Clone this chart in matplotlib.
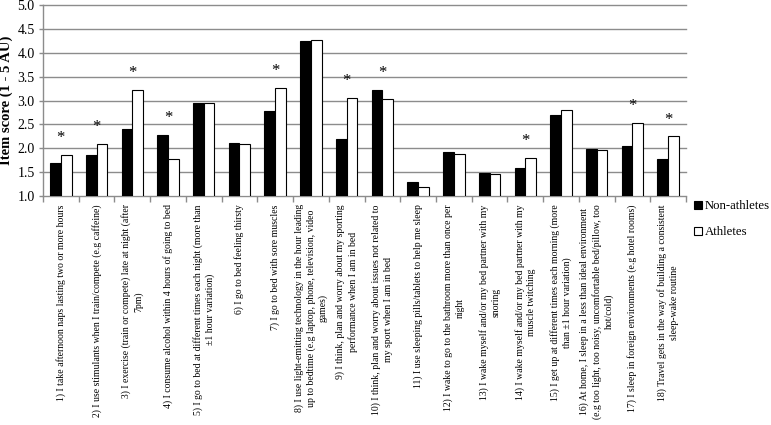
import matplotlib
matplotlib.use("Agg")
import matplotlib.pyplot as plt
from matplotlib.patches import Patch
import numpy as np

plt.rcParams['font.family'] = ['Liberation Serif', 'DejaVu Serif']

categories = [
    "1) I take afternoon naps lasting two or more hours",
    "2) I use stimulants when I train/compete (e.g caffeine)",
    "3) I exercise (train or compete) late at night (after\n7pm)",
    "4) I consume alcohol within 4 hours of going to bed",
    "5) I go to bed at different times each night (more than\n\u00b11 hour variation)",
    "6) I go to bed feeling thirsty",
    "7) I go to bed with sore muscles",
    "8) I use light-emitting technology in the hour leading\nup to bedtime (e.g laptop, phone, television, video\ngames)",
    "9) I think, plan and worry about my sporting\nperformance when I am in bed",
    "10) I think, plan and worry about issues not related to\nmy sport when I am in bed",
    "11) I use sleeping pills/tablets to help me sleep",
    "12) I wake to go to the bathroom more than once per\nnight",
    "13) I wake myself and/or my bed partner with my\nsnoring",
    "14) I wake myself and/or my bed partner with my\nmuscle twitching",
    "15) I get up at different times each morning (more\nthan \u00b11 hour variation)",
    "16) At home, I sleep in a less than ideal environment\n(e.g too light, too noisy, uncomfortable bed/pillow, too\nhot/cold)",
    "17) I sleep in foreign environments (e.g hotel rooms)",
    "18) Travel gets in the way of building a consistent\nsleep-wake routine",
]

non_athletes = [1.70, 1.86, 2.41, 2.28, 2.94, 2.12, 2.78, 4.24, 2.20, 3.23,
                1.30, 1.93, 1.49, 1.59, 2.69, 1.98, 2.05, 1.77]
athletes = [1.86, 2.09, 3.23, 1.77, 2.94, 2.09, 3.27, 4.26, 3.06, 3.04,
            1.18, 1.88, 1.46, 1.80, 2.81, 1.96, 2.53, 2.25]
significant = [1, 1, 1, 1, 0, 0, 1, 0, 1, 1, 0, 0, 0, 1, 0, 0, 1, 1]

yticks = [1.0, 1.5, 2.0, 2.5, 3.0, 3.5, 4.0, 4.5, 5.0]
ylabel = "Item score (1 - 5 AU)"
series_names = ["Non-athletes", "Athletes"]

fig = plt.figure(figsize=(7.71, 4.25), dpi=100)
ax = fig.add_axes([43/771, 1 - 196/425, (686-43)/771, (196-5)/425])

x = np.arange(len(categories))
w = 0.30
grid_c = '#8c8c8c'

ax.bar(x - w/2, [v - 1 for v in non_athletes], w, bottom=1.0, color='black',
       edgecolor='black', linewidth=0.8, zorder=3)
ax.bar(x + w/2, [v - 1 for v in athletes], w, bottom=1.0, color='white',
       edgecolor='black', linewidth=0.8, zorder=3)

for i, s in enumerate(significant):
    if s:
        top = max(non_athletes[i], athletes[i])
        ax.annotate('*', xy=(x[i], top), xytext=(0, 9), textcoords='offset points',
                    ha='center', va='baseline', fontsize=12, zorder=4)

ax.set_xlim(-0.5, len(categories) - 0.5)
ax.set_ylim(1.0, 5.0)
ax.set_yticks(yticks)
ax.set_yticklabels([f"{t:.1f}" for t in yticks], fontsize=10)
for t in yticks[1:]:
    ax.axhline(t, color=grid_c, linewidth=1.0, zorder=1, clip_on=False)

ax.set_xticks(x)
ax.set_xticklabels(categories, rotation=90, fontsize=7.0, ha='center', va='top',
                   multialignment='center', linespacing=1.35)
ax.set_xticks(np.arange(len(categories) + 1) - 0.5, minor=True)
ax.tick_params(axis='x', which='major', length=0, pad=6)
ax.tick_params(axis='x', which='minor', length=4, color=grid_c, width=1.0)
ax.tick_params(axis='y', length=3, color=grid_c, width=1.0, pad=3)

for sp in ['top', 'right']:
    ax.spines[sp].set_visible(False)
ax.spines['left'].set_color(grid_c)
ax.spines['bottom'].set_color(grid_c)
ax.spines['left'].set_linewidth(1.0)
ax.spines['bottom'].set_linewidth(1.0)

ax.set_ylabel(ylabel, fontsize=10.5, fontweight='bold')
ax.yaxis.set_label_coords(-0.047, 0.5)

handles = [Patch(facecolor='black', edgecolor='black', linewidth=0.8),
           Patch(facecolor='white', edgecolor='black', linewidth=0.8)]
fig.legend(handles, series_names, loc='upper left',
           bbox_to_anchor=(693/771, 1 - 199/425), frameon=False, fontsize=9.2,
           handlelength=0.6, handleheight=0.6, handletextpad=0.2,
           labelspacing=1.1, borderpad=0.1, borderaxespad=0)

fig.savefig("out.png", dpi=100)
